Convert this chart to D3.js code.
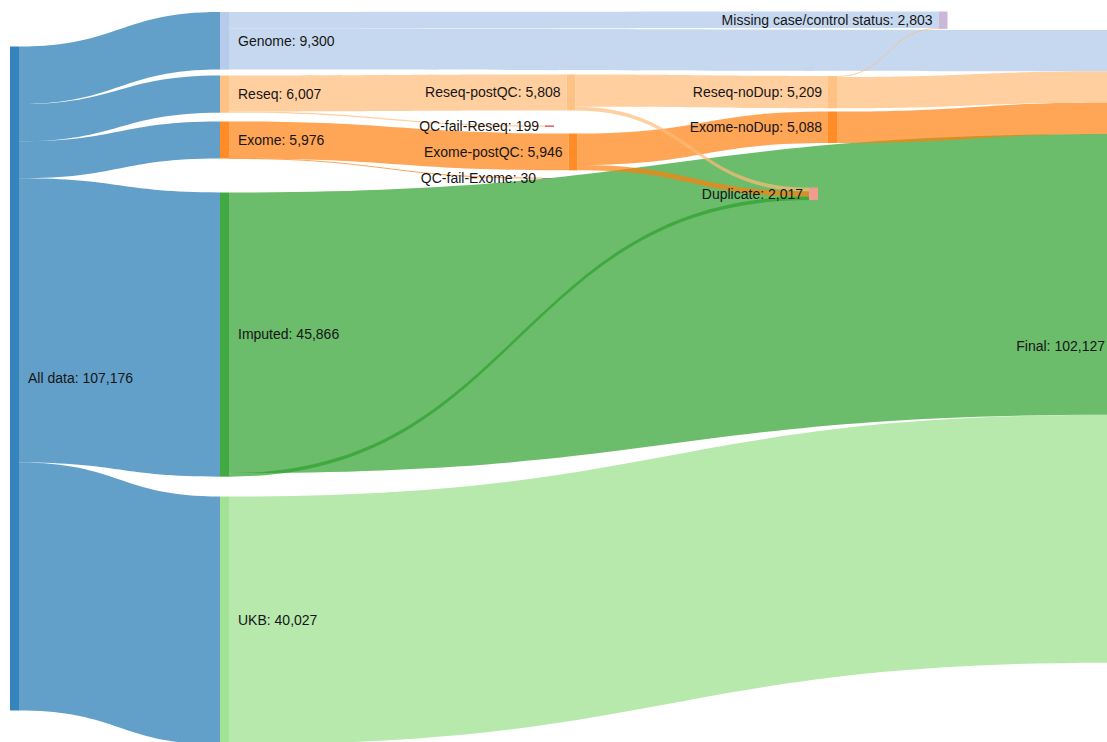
<!DOCTYPE html>
<html>
<head>
<meta charset="utf-8">
<script src="https://cdn.jsdelivr.net/npm/d3@7"></script>
<style>
  html, body { margin: 0; padding: 0; background: #fff; }
  svg { display: block; }
  text { font-family: "Liberation Sans", Arial, Helvetica, sans-serif; font-size: 14px; fill: #161616; }
</style>
</head>
<body>
<svg id="chart" width="1107" height="742"></svg>
<script>
// ---------------- data ----------------
const nodeNames = [
  "All data", "Genome", "Reseq", "Exome", "Imputed", "UKB",
  "Reseq-postQC", "QC-fail-Reseq", "Exome-postQC", "QC-fail-Exome",
  "Reseq-noDup", "Exome-noDup", "Duplicate",
  "Missing case/control status", "Final"
];
const nodeValues = [
  107176, 9300, 6007, 5976, 45866, 40027,
  5808, 199, 5946, 30,
  5209, 5088, 2017,
  2803, 102127
];
const linkSources = [
  "All data", "All data", "All data", "All data", "All data",
  "Genome", "Genome",
  "Reseq", "Reseq",
  "Exome", "Exome",
  "Reseq-postQC", "Reseq-postQC",
  "Exome-postQC", "Exome-postQC",
  "Reseq-noDup", "Reseq-noDup",
  "Exome-noDup",
  "Imputed", "Imputed",
  "UKB"
];
const linkTargets = [
  "Genome", "Reseq", "Exome", "Imputed", "UKB",
  "Missing case/control status", "Final",
  "Reseq-postQC", "QC-fail-Reseq",
  "Exome-postQC", "QC-fail-Exome",
  "Reseq-noDup", "Duplicate",
  "Exome-noDup", "Duplicate",
  "Missing case/control status", "Final",
  "Final",
  "Final", "Duplicate",
  "Final"
];
const linkValues = [
  9300, 6007, 5976, 45866, 40027,
  2650, 6650,
  5808, 199,
  5946, 30,
  5209, 599,
  5088, 858,
  153, 5056,
  5088,
  45306, 560,
  40027
];

// ---------------- layout (positions / styles) ----------------
const nodeX = {
  "All data": 10, "Genome": 220, "Reseq": 220, "Exome": 220, "Imputed": 220, "UKB": 220,
  "Reseq-postQC": 566.5, "QC-fail-Reseq": 545, "Exome-postQC": 568.5, "QC-fail-Exome": 542,
  "Reseq-noDup": 828, "Exome-noDup": 828, "Duplicate": 809,
  "Missing case/control status": 938.5, "Final": 1111
};
const nodeTop = {
  "All data": 46.5, "Genome": 12, "Reseq": 75.5, "Exome": 121.5, "Imputed": 192.5, "UKB": 496.5,
  "Reseq-postQC": 74.5, "QC-fail-Reseq": 125.5, "Exome-postQC": 133.5, "QC-fail-Exome": 178,
  "Reseq-noDup": 76, "Exome-noDup": 111.5, "Duplicate": 187.5,
  "Missing case/control status": 11.5, "Final": 30
};
const nodeColor = {
  "All data": "#1f77b4", "Genome": "#aec7e8", "Reseq": "#ffbb78", "Exome": "#ff7f0e",
  "Imputed": "#2ca02c", "UKB": "#98df8a",
  "Reseq-postQC": "#ffbb78", "QC-fail-Reseq": "#d62728", "Exome-postQC": "#ff7f0e", "QC-fail-Exome": "#7f8f6f",
  "Reseq-noDup": "#ffbb78", "Exome-noDup": "#ff7f0e", "Duplicate": "#ff9896",
  "Missing case/control status": "#c5b0d5", "Final": "#8c564b"
};
// drawing order of links (by source), lower first
const drawPriority = {
  "All data": 0, "Genome": 1, "UKB": 2, "Imputed": 3,
  "Exome": 4, "Exome-postQC": 5, "Exome-noDup": 6,
  "Reseq": 7, "Reseq-postQC": 8, "Reseq-noDup": 9
};
const nodeWidth = 9;
const labelGapRight = 9;
const labelGapLeft = 6;
const labelSplitX = 400;

// ---------------- scales ----------------
const yScale = d3.scaleLinear().domain([0, 107176]).range([0, 664]);
const fmt = d3.format(",");

const nodes = nodeNames.map((name, i) => {
  const h = Math.max(1, yScale(nodeValues[i]));
  return { name, value: nodeValues[i], x0: nodeX[name], x1: nodeX[name] + nodeWidth,
           y0: nodeTop[name], y1: nodeTop[name] + h, outOff: 0, inOff: 0 };
});
const byName = new Map(nodes.map(n => [n.name, n]));

const links = linkSources.map((s, i) => {
  const src = byName.get(s), tgt = byName.get(linkTargets[i]);
  const w = yScale(linkValues[i]);
  const l = { idx: i, src, tgt, value: linkValues[i], w,
              sy0: src.y0 + src.outOff, ty0: tgt.y0 + tgt.inOff };
  src.outOff += w; tgt.inOff += w;
  l.sy1 = l.sy0 + w; l.ty1 = l.ty0 + w;
  return l;
});

const svg = d3.select("#chart");

function bandPath(l) {
  const sx = l.src.x1, tx = l.tgt.x0, xm = (sx + tx) / 2;
  const p = d3.path();
  p.moveTo(sx, l.sy0);
  p.bezierCurveTo(xm, l.sy0, xm, l.ty0, tx, l.ty0);
  p.lineTo(tx, l.ty1);
  p.bezierCurveTo(xm, l.ty1, xm, l.sy1, sx, l.sy1);
  p.closePath();
  return p.toString();
}
function centerPath(l) {
  const sx = l.src.x1, tx = l.tgt.x0, xm = (sx + tx) / 2;
  const sy = (l.sy0 + l.sy1) / 2, ty = (l.ty0 + l.ty1) / 2;
  const p = d3.path();
  p.moveTo(sx, sy);
  p.bezierCurveTo(xm, sy, xm, ty, tx, ty);
  return p.toString();
}

const drawLinks = links.slice().sort((a, b) =>
  (drawPriority[a.src.name] - drawPriority[b.src.name]) || (a.idx - b.idx));

const gLinks = svg.append("g");
drawLinks.forEach(l => {
  const c = nodeColor[l.src.name];
  if (l.w >= 1) {
    gLinks.append("path").attr("d", bandPath(l)).attr("fill", c).attr("fill-opacity", 0.7);
  } else {
    gLinks.append("path").attr("d", centerPath(l)).attr("fill", "none")
      .attr("stroke", c).attr("stroke-opacity", 0.7).attr("stroke-width", 1);
  }
});

const gNodes = svg.append("g");
gNodes.selectAll("rect").data(nodes).join("rect")
  .attr("x", d => d.x0).attr("y", d => d.y0)
  .attr("width", d => d.x1 - d.x0).attr("height", d => d.y1 - d.y0)
  .attr("fill", d => nodeColor[d.name]).attr("fill-opacity", 0.9);

const gLabels = svg.append("g");
gLabels.selectAll("text").data(nodes).join("text")
  .attr("x", d => d.x0 < labelSplitX ? d.x1 + labelGapRight : d.x0 - labelGapLeft)
  .attr("y", d => (d.y0 + d.y1) / 2)
  .attr("dy", "0.35em")
  .attr("text-anchor", d => d.x0 < labelSplitX ? "start" : "end")
  .text(d => d.name + ": " + fmt(d.value));
</script>
</body>
</html>
